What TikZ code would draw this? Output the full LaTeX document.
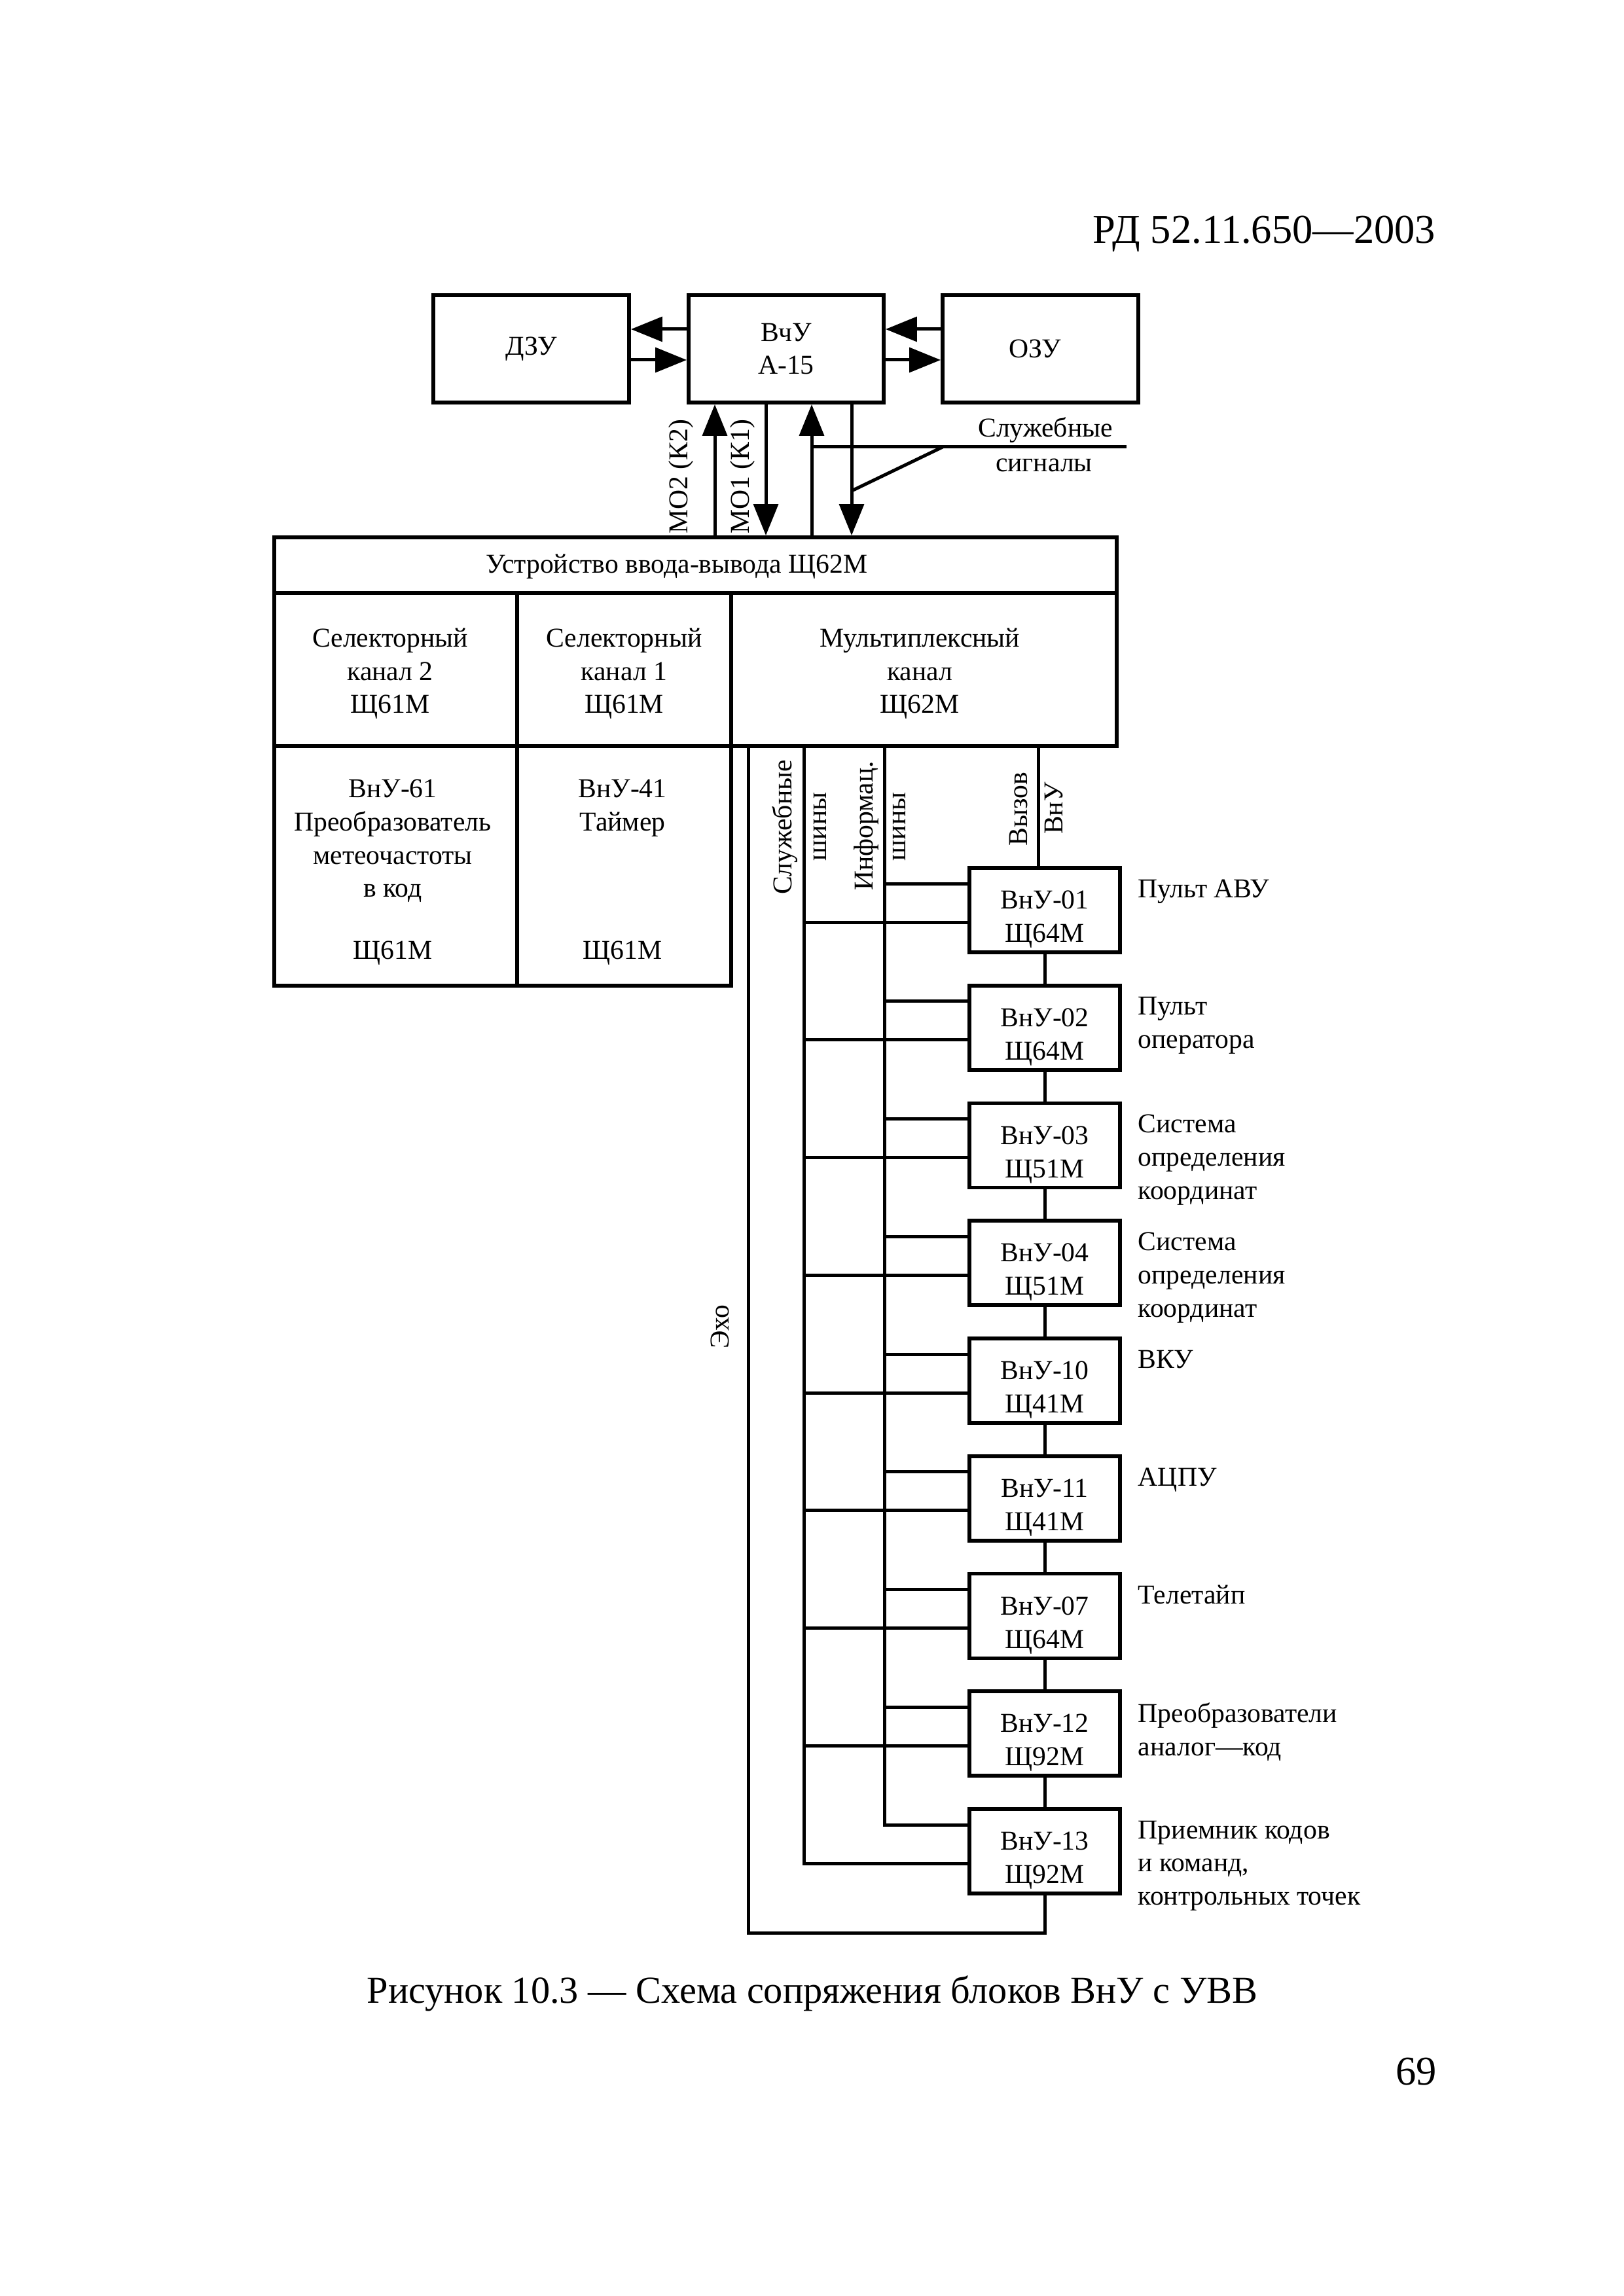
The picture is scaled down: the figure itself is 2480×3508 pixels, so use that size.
\documentclass[tikz,border=0pt]{standalone}
\usepackage{fontspec}
\setmainfont{Liberation Serif}
\usetikzlibrary{arrows.meta,fit,calc}
\begin{document}
\begin{tikzpicture}[x=0.24pt,y=-0.24pt,
  every node/.style={font=\fontsize{10}{12.2}\selectfont, inner sep=0pt},
  blk/.style={draw, line width=1.4pt, inner sep=0pt},
  txt/.style={align=center},
  ln/.style={line width=1.2pt},
  arr/.style={line width=1.2pt, -{Triangle[length=11.5pt,width=9pt]}},
  lbl/.style={align=left, anchor=north west},
]
\useasboundingbox (0,0) rectangle (2480,3508);

% header
\node[anchor=base east, font=\fontsize{15}{18}\selectfont] (hdr) at (2194,372) {РД 52.11.650—2003};

% top boxes
\node[blk, fit={(662,451) (961,615)}] (dzu) {};
\node[txt] (dzut) at (dzu.center) {ДЗУ};
\node[blk, fit={(1052,451) (1350,615)}] (vchu) {};
\node[txt] (vchut) at (vchu.center) {ВчУ\\А-15};
\node[blk, fit={(1440,451) (1739,615)}] (ozu) {};
\node[txt] (ozut) at ([xshift=-2pt]ozu.center) {ОЗУ};

\coordinate (ya) at (0,503);
\coordinate (yb) at (0,550);
\draw[arr] (vchu.west |- ya) -- (dzu.east |- ya);
\draw[arr] (dzu.east |- yb) -- (vchu.west |- yb);
\draw[arr] (ozu.west |- ya) -- (vchu.east |- ya);
\draw[arr] (vchu.east |- yb) -- (ozu.west |- yb);

% I/O device
\node[blk, fit={(419,821) (1706,906)}] (uvvt) {};
\node (uvvtt) at (1034,866) {Устройство ввода-вывода Щ62М};
\node[blk, fit={(419,906) (790,1140)}] (sel2) {};
\node[txt] (sel2t) at ([xshift=-2pt,yshift=-1.5pt]sel2.center) {Селекторный\\канал 2\\Щ61М};
\node[blk, fit={(790,906) (1117,1140)}] (sel1) {};
\node[txt] (sel1t) at ([yshift=-1.5pt]sel1.center) {Селекторный\\канал 1\\Щ61М};
\node[blk, fit={(1117,906) (1706,1140)}] (mux) {};
\node[txt] (muxt) at ([xshift=-1.5pt,yshift=-1.5pt]mux.center) {Мультиплексный\\канал\\Щ62М};
\node[blk, fit={(419,1140) (790,1506)}] (b61) {};
\node[blk, fit={(790,1140) (1117,1506)}] (b41) {};
\node[anchor=north, txt] (b61t) at (600,1190) {ВнУ-61\\Преобразователь\\метеочастоты\\в код};
\node (b61c) at (600,1456) {Щ61М};
\node[anchor=north, txt] (b41t) at (951,1190) {ВнУ-41\\Таймер};
\node (b41c) at (951,1456) {Щ61М};

% vertical arrows between ВчУ and УВВ
\coordinate (xa) at (1092,0);
\coordinate (xb) at (1170,0);
\coordinate (xc) at (1240,0);
\coordinate (xd) at (1301,0);
\draw[arr] (xa |- uvvt.north) -- (xa |- vchu.south);
\draw[arr] (xb |- vchu.south) -- (xb |- uvvt.north);
\draw[arr] (xc |- uvvt.north) -- (xc |- vchu.south);
\draw[arr] (xd |- vchu.south) -- (xd |- uvvt.north);
\node[rotate=90] (mo2) at (1040,728) {МО2 (К2)};
\node[rotate=90] (mo1) at (1134,728) {МО1 (К1)};

% service signals
\coordinate (yss) at (0,683);
\coordinate (ssend) at (1721,683);
\coordinate (ssk) at (1440,683);
\coordinate (ssd) at (1301,750);
\draw[ln] (xc |- yss) -- (ssend);
\draw[ln] (ssk) -- (ssd);
\node (sst1) at (1597,657) {Служебные};
\node (sst2) at (1595,711) {сигналы};

% peripheral units
\foreach \i/\a/\b/\c in {0/01/Щ64М/{Пульт АВУ},1/02/Щ64М/{Пульт\\оператора},2/03/Щ51М/{Система\\определения\\координат},3/04/Щ51М/{Система\\определения\\координат},4/10/Щ41М/{ВКУ},5/11/Щ41М/{АЦПУ},6/07/Щ64М/{Телетайп},7/12/Щ92М/{Преобразователи\\аналог—код},8/13/Щ92М/{Приемник кодов\\и команд,\\контрольных точек}}{
  \pgfmathsetmacro\t{1326+179.75*\i}
  \node[blk, fit={(1481,\t) (1711,{\t+129})}] (v\i) {};
  \node[txt] (vt\i) at ([yshift=-3.4pt]v\i.center) {ВнУ-\a\\\b};
  \node[lbl] (l\i) at (1738,{\t+17}) {\c};
  \path ($(v\i.north west)+(0,27)$) coordinate (pi\i);
  \path ($(v\i.north west)+(0,86)$) coordinate (ps\i);
}

% buses
\coordinate (xe) at (1143,0);
\coordinate (xs) at (1228,0);
\coordinate (xi) at (1351,0);
\coordinate (xv) at (1586,0);
\coordinate (ye) at (0,2953);

\draw[ln] (xv |- mux.south) -- (xv |- v0.north);
\draw[ln] (xs |- mux.south) |- (ps8);
\draw[ln] (xi |- mux.south) |- (pi8);
\draw[ln] (xe |- mux.south) -- (xe |- ye) -| (v8.south);

\foreach \i in {0,...,7}{
  \draw[ln] (pi\i -| xi) -- (pi\i);
  \draw[ln] (ps\i -| xs) -- (ps\i);
}
\foreach \i [evaluate=\i as \j using int(\i+1)] in {0,...,7}{
  \draw[ln] (v\i.south) -- (v\j.north);
}

% bus labels
\node[rotate=90] (bs1) at (1199,1264) {Служебные};
\node[rotate=90] (bs2) at (1253,1263) {шины};
\node[rotate=90] (bi1) at (1323,1262) {Информац.};
\node[rotate=90] (bi2) at (1374,1263) {шины};
\node[rotate=90] (bv1) at (1556,1236) {Вызов};
\node[rotate=90] (bv2) at (1610,1235) {ВнУ};
\node[rotate=90] (echo) at (1100,2027) {Эхо};

% caption and page number
\node[anchor=base, font=\fontsize{14}{17}\selectfont] (cap) at (1241,3060) {Рисунок 10.3 — Схема сопряжения блоков ВнУ с УВВ};
\node[anchor=base east, font=\fontsize{15}{18}\selectfont] (pg) at (2196,3185) {69};
\end{tikzpicture}
\end{document}
